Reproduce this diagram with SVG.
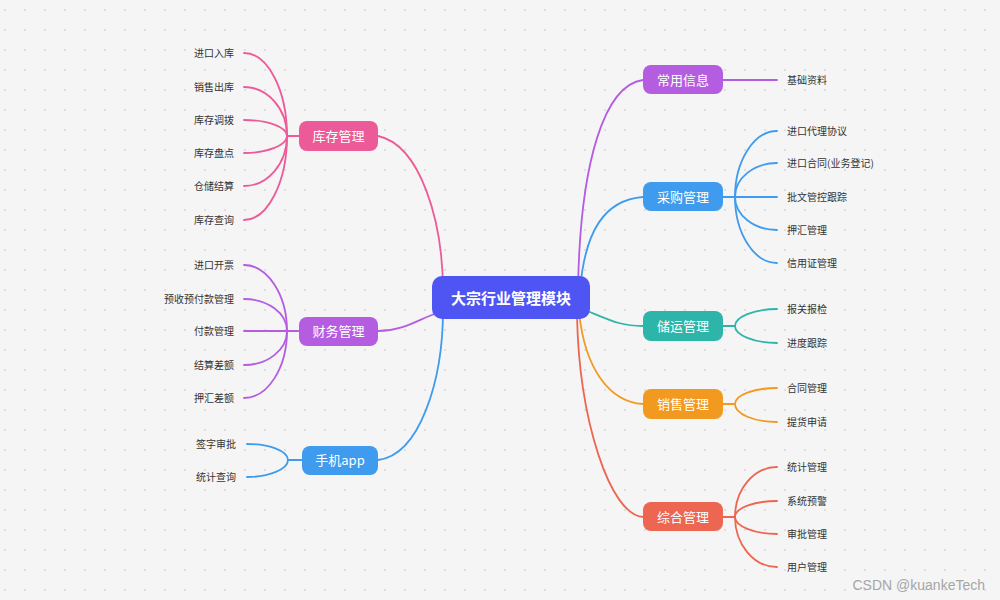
<svg xmlns="http://www.w3.org/2000/svg" width="1000" height="600" viewBox="0 0 1000 600">
<defs>
<pattern id="dots" x="0" y="0" width="20" height="20" patternUnits="userSpaceOnUse">
<circle cx="5" cy="10" r="0.9" fill="#d4d4d4"/>
</pattern>
<style>
.leaf{font-family:"Noto Sans CJK SC","Noto Sans",sans-serif;font-size:10px;fill:#333}
.lt{text-anchor:end}
.nt{font-family:"Noto Sans CJK SC","Noto Sans",sans-serif;font-size:13px;fill:#fff;text-anchor:middle}
.ct{font-family:"Noto Sans CJK SC","Noto Sans",sans-serif;font-size:15px;font-weight:bold;fill:#fff;text-anchor:middle}
.c{fill:none;stroke-width:1.8;stroke-linecap:round}
.pink{stroke:#ec5b98}
.purple{stroke:#b55de0}
.blue{stroke:#3f9bed}
.teal{stroke:#2db5a9}
.orange{stroke:#f29a1f}
.red{stroke:#ec6651}
</style>
</defs>
<rect width="1000" height="600" fill="#f5f5f5"/>
<rect width="1000" height="600" fill="url(#dots)"/>

<g id="connectors">
<!-- center to level-1 -->
<path class="c pink" d="M443 292 C443 220 420 145 378 136"/>
<path class="c purple" d="M440 312 C420 318 405 331 378 331"/>
<path class="c blue" d="M443 310 C443 380 420 455 378 460"/>
<path class="c purple" d="M578 290 C580 160 605 85 643 80"/>
<path class="c blue" d="M580 290 C585 230 605 200 643 197"/>
<path class="c teal" d="M585 310 C610 320 620 326 643 326"/>
<path class="c orange" d="M579 312 C585 370 610 402 643 404"/>
<path class="c red" d="M577 315 C579 420 610 515 643 517"/>
<!-- 库存管理 leaves -->
<path class="c pink" d="M299 136 L287 136"/>
<path class="c pink" d="M287 136 C287 90 267.7 53 244 53"/>
<path class="c pink" d="M287 136 C287 109 267.7 87 244 87"/>
<path class="c pink" d="M287 136 C287 127 267.7 120 244 120"/>
<path class="c pink" d="M287 136 C287 145 267.7 153 244 153"/>
<path class="c pink" d="M287 136 C287 163.5 267.7 186 244 186"/>
<path class="c pink" d="M287 136 C287 182 267.7 220 244 220"/>
<!-- 财务管理 leaves -->
<path class="c purple" d="M299 331 L287 331"/>
<path class="c purple" d="M287 331 C287 295 267.7 265 244 265"/>
<path class="c purple" d="M287 331 C287 313 267.7 299 244 299"/>
<path class="c purple" d="M287 331 L244 331"/>
<path class="c purple" d="M287 331 C287 350 267.7 365 244 365"/>
<path class="c purple" d="M287 331 C287 368 267.7 398 244 398"/>
<!-- 手机app leaves -->
<path class="c blue" d="M302 460 L288 460"/>
<path class="c blue" d="M288 460 C288 451 269.5 444 247 444"/>
<path class="c blue" d="M288 460 C288 469 269.5 477 247 477"/>
<!-- 常用信息 leaf -->
<path class="c purple" d="M723 80 L777 80"/>
<!-- 采购管理 leaves -->
<path class="c blue" d="M723 197 L735 197"/>
<path class="c blue" d="M735 197 C735 161 753.9 131 777 131"/>
<path class="c blue" d="M735 197 C735 178 753.9 163 777 163"/>
<path class="c blue" d="M735 197 L777 197"/>
<path class="c blue" d="M735 197 C735 215 753.9 230 777 230"/>
<path class="c blue" d="M735 197 C735 233 753.9 263 777 263"/>
<!-- 储运管理 leaves -->
<path class="c teal" d="M723 326 L735 326"/>
<path class="c teal" d="M735 326 C735 317 753.9 309 777 309"/>
<path class="c teal" d="M735 326 C735 335 753.9 343 777 343"/>
<!-- 销售管理 leaves -->
<path class="c orange" d="M723 404 L735 404"/>
<path class="c orange" d="M735 404 C735 395 753.9 388 777 388"/>
<path class="c orange" d="M735 404 C735 414 753.9 422 777 422"/>
<!-- 综合管理 leaves -->
<path class="c red" d="M723 517 L735 517"/>
<path class="c red" d="M735 517 C735 489.5 753.9 467 777 467"/>
<path class="c red" d="M735 517 C735 508 753.9 501 777 501"/>
<path class="c red" d="M735 517 C735 526 753.9 534 777 534"/>
<path class="c red" d="M735 517 C735 544.5 753.9 567 777 567"/>
</g>

<g id="center">
<rect x="432" y="276" width="158" height="43" rx="10" fill="#4f55f2"/>
<text class="ct" x="511" y="303.5">大宗行业管理模块</text>
</g>

<g id="kucun">
<rect x="299" y="121" width="79" height="30" rx="8" fill="#ec5b98"/>
<text class="nt" x="338.5" y="141">库存管理</text>
<text class="leaf lt" x="234" y="57">进口入库</text>
<text class="leaf lt" x="234" y="91">销售出库</text>
<text class="leaf lt" x="234" y="124">库存调拨</text>
<text class="leaf lt" x="234" y="157">库存盘点</text>
<text class="leaf lt" x="234" y="190">仓储结算</text>
<text class="leaf lt" x="234" y="224">库存查询</text>
</g>

<g id="caiwu">
<rect x="299" y="317" width="79" height="29" rx="8" fill="#b55de0"/>
<text class="nt" x="338.5" y="336">财务管理</text>
<text class="leaf lt" x="234" y="269">进口开票</text>
<text class="leaf lt" x="234" y="303">预收预付款管理</text>
<text class="leaf lt" x="234" y="335">付款管理</text>
<text class="leaf lt" x="234" y="369">结算差额</text>
<text class="leaf lt" x="234" y="402">押汇差额</text>
</g>

<g id="shouji">
<rect x="302" y="446" width="76" height="29" rx="8" fill="#3f9bed"/>
<text class="nt" x="340" y="465">手机app</text>
<text class="leaf lt" x="236" y="448">签字审批</text>
<text class="leaf lt" x="236" y="481">统计查询</text>
</g>

<g id="changyong">
<rect x="643" y="65" width="80" height="29" rx="8" fill="#b55de0"/>
<text class="nt" x="683" y="84.5">常用信息</text>
<text class="leaf" x="787" y="84">基础资料</text>
</g>

<g id="caigou">
<rect x="643" y="182" width="80" height="29" rx="8" fill="#3f9bed"/>
<text class="nt" x="683" y="201.5">采购管理</text>
<text class="leaf" x="787" y="135">进口代理协议</text>
<text class="leaf" x="787" y="167">进口合同(业务登记)</text>
<text class="leaf" x="787" y="201">批文管控跟踪</text>
<text class="leaf" x="787" y="234">押汇管理</text>
<text class="leaf" x="787" y="267">信用证管理</text>
</g>

<g id="chuyun">
<rect x="643" y="311" width="80" height="30" rx="8" fill="#2db5a9"/>
<text class="nt" x="683" y="331">储运管理</text>
<text class="leaf" x="787" y="313">报关报检</text>
<text class="leaf" x="787" y="347">进度跟踪</text>
</g>

<g id="xiaoshou">
<rect x="643" y="389" width="80" height="30" rx="8" fill="#f29a1f"/>
<text class="nt" x="683" y="409">销售管理</text>
<text class="leaf" x="787" y="392">合同管理</text>
<text class="leaf" x="787" y="426">提货申请</text>
</g>

<g id="zonghe">
<rect x="643" y="502" width="80" height="29" rx="8" fill="#ec6651"/>
<text class="nt" x="683" y="521.5">综合管理</text>
<text class="leaf" x="787" y="471">统计管理</text>
<text class="leaf" x="787" y="505">系统预警</text>
<text class="leaf" x="787" y="538">审批管理</text>
<text class="leaf" x="787" y="571">用户管理</text>
</g>

<text x="985" y="590" font-family="Liberation Sans, Arial, sans-serif" font-size="14" fill="#a6a6a6" text-anchor="end">CSDN @kuankeTech</text>
</svg>
